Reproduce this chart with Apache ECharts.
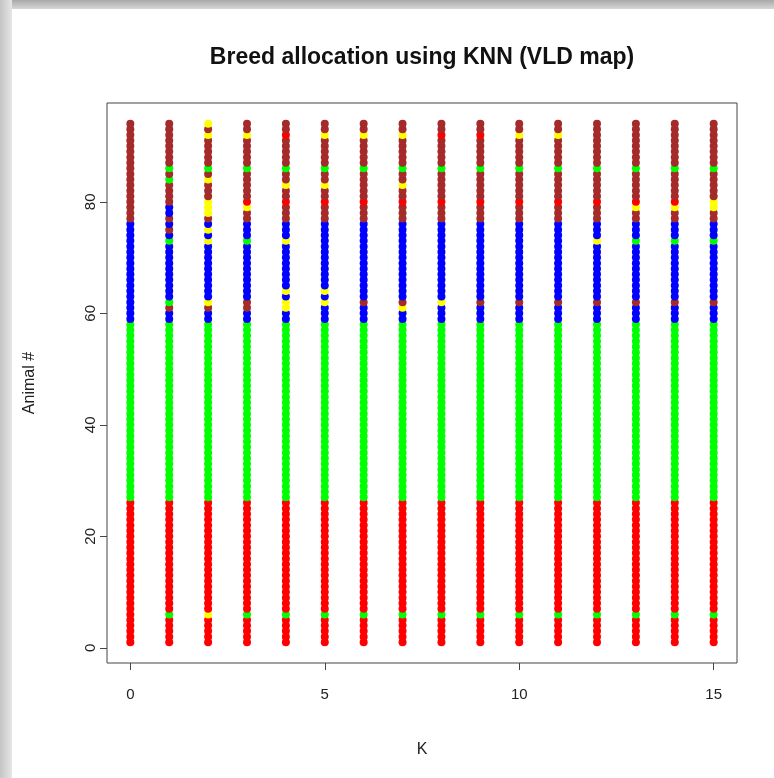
<!DOCTYPE html>
<html>
<head>
<meta charset="utf-8">
<title>Breed allocation using KNN (VLD map)</title>
<script src="https://cdn.jsdelivr.net/npm/echarts@6/dist/echarts.min.js"></script>
<style>
  html, body { margin: 0; padding: 0; background: #fff; }
  .edge { position: absolute; left: 0; top: 0; }
  #topEdge { width: 774px; height: 9px; background: linear-gradient(#a9a9a9, #d6d6d6); }
  #leftEdge { width: 12px; height: 778px; background: linear-gradient(to right, #c4c4c4, #e6e6e6); }
  #chart { position: absolute; left: 0; top: 0; width: 774px; height: 778px; }
</style>
</head>
<body>
<div id="topEdge" class="edge"></div>
<div id="leftEdge" class="edge"></div>
<div id="chart"></div>
<script>
// K values on the x axis
const kValues = [0, 1, 2, 3, 4, 5, 6, 7, 8, 9, 10, 11, 12, 13, 14, 15];
// breeds and their plot colours (R colour names)
const breedColours = { red: "#ff0000", green: "#00ff00", blue: "#0000ff", brown: "#a52a2a", yellow: "#ffff00" };
// animals are numbered 1..94, grouped by true breed (as seen at K = 0)
const trueBreeds = ["red", "green", "blue", "brown"];
const breedCounts = [26, 32, 18, 18];
// animals allocated to another breed: [K, animal #, allocated breed]
const reassigned = [
  [1, 86, "green"], [1, 84, "green"], [1, 79, "blue"], [1, 78, "blue"], [1, 75, "brown"],
  [1, 73, "green"], [1, 62, "green"], [1, 61, "brown"], [1, 6, "green"],
  [2, 94, "yellow"], [2, 92, "yellow"], [2, 86, "green"], [2, 84, "yellow"], [2, 80, "yellow"],
  [2, 79, "yellow"], [2, 78, "yellow"], [2, 75, "yellow"], [2, 73, "yellow"], [2, 62, "yellow"],
  [2, 61, "brown"], [2, 6, "yellow"],
  [3, 92, "yellow"], [3, 86, "green"], [3, 80, "red"], [3, 79, "yellow"], [3, 73, "green"],
  [3, 62, "brown"], [3, 61, "brown"], [3, 6, "green"],
  [4, 92, "red"], [4, 86, "green"], [4, 83, "yellow"], [4, 80, "red"], [4, 73, "yellow"],
  [4, 64, "yellow"], [4, 62, "yellow"], [4, 61, "yellow"], [4, 6, "green"],
  [5, 92, "yellow"], [5, 86, "green"], [5, 83, "yellow"], [5, 80, "red"], [5, 64, "yellow"],
  [5, 62, "yellow"], [5, 6, "green"],
  [6, 92, "yellow"], [6, 86, "green"], [6, 80, "red"], [6, 62, "brown"], [6, 6, "green"],
  [7, 92, "yellow"], [7, 86, "green"], [7, 83, "yellow"], [7, 80, "red"], [7, 62, "brown"],
  [7, 61, "yellow"], [7, 6, "green"],
  [8, 92, "red"], [8, 86, "green"], [8, 80, "red"], [8, 62, "yellow"], [8, 6, "green"],
  [9, 92, "red"], [9, 86, "green"], [9, 80, "red"], [9, 62, "brown"], [9, 6, "green"],
  [10, 92, "yellow"], [10, 86, "green"], [10, 80, "red"], [10, 62, "brown"], [10, 6, "green"],
  [11, 92, "yellow"], [11, 86, "green"], [11, 80, "red"], [11, 62, "brown"], [11, 6, "green"],
  [12, 86, "green"], [12, 80, "red"], [12, 73, "yellow"], [12, 62, "brown"], [12, 6, "green"],
  [13, 86, "green"], [13, 80, "red"], [13, 79, "yellow"], [13, 73, "green"], [13, 62, "brown"], [13, 6, "green"],
  [14, 86, "green"], [14, 80, "red"], [14, 79, "yellow"], [14, 73, "green"], [14, 62, "brown"], [14, 6, "green"],
  [15, 86, "green"], [15, 80, "yellow"], [15, 79, "yellow"], [15, 73, "green"], [15, 62, "brown"], [15, 6, "green"]
];
const xTicks = [0, 5, 10, 15];
const yTicks = [0, 20, 40, 60, 80];

// true breed of each animal
const animalBreed = [];
trueBreeds.forEach((b, i) => {
  for (let j = 0; j < breedCounts[i]; j++) animalBreed.push(b);
});

const points = [];
kValues.forEach((k) => {
  const col = animalBreed.slice();
  reassigned.filter((r) => r[0] === k).forEach((r) => { col[r[1] - 1] = r[2]; });
  col.forEach((b, idx) => {
    points.push({ value: [k, idx + 1], itemStyle: { color: breedColours[b] } });
  });
});

const font = "Liberation Sans";
const chart = echarts.init(document.getElementById("chart"));
chart.setOption({
  animation: false,
  textStyle: { fontFamily: font },
  graphic: [{
    type: "text",
    x: 422,
    y: 58,
    style: {
      text: "Breed allocation using KNN (VLD map)",
      font: "bold 23px 'Liberation Sans'",
      fill: "#111",
      textAlign: "center",
      textVerticalAlign: "middle"
    }
  }],
  grid: { left: 107, top: 103, width: 630, height: 560, show: true, borderColor: "#444", borderWidth: 1, backgroundColor: "transparent" },
  xAxis: {
    type: "value",
    min: -0.6,
    max: 15.6,
    name: "K",
    nameLocation: "middle",
    nameGap: 79,
    nameTextStyle: { fontSize: 16, color: "#222" },
    axisLine: { show: false, onZero: false },
    splitLine: { show: false },
    axisTick: { show: true, inside: false, length: 7, customValues: xTicks, lineStyle: { color: "#444" } },
    axisLabel: { customValues: xTicks, fontSize: 15, color: "#222", margin: 24 }
  },
  yAxis: {
    type: "value",
    min: -2.72,
    max: 97.72,
    name: "Animal #",
    nameLocation: "middle",
    nameGap: 69,
    nameRotate: 90,
    nameTextStyle: { fontSize: 16, color: "#222" },
    axisLine: { show: false, onZero: false },
    splitLine: { show: false },
    axisTick: { show: true, inside: false, length: 7, customValues: yTicks, lineStyle: { color: "#444" } },
    axisLabel: { customValues: yTicks, fontSize: 15, color: "#222", rotate: 90, margin: 9 }
  },
  series: [{
    type: "scatter",
    symbol: "circle",
    symbolSize: 8,
    itemStyle: { opacity: 1 },
    data: points
  }]
});
</script>
</body>
</html>
